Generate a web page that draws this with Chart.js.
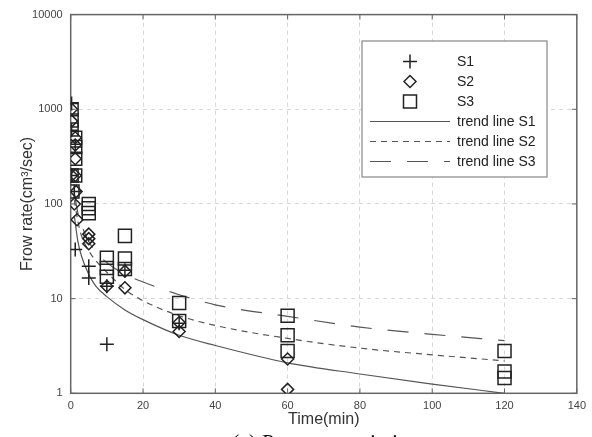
<!DOCTYPE html>
<html>
<head>
<meta charset="utf-8">
<script src="https://cdn.jsdelivr.net/npm/chart.js@4/dist/chart.umd.min.js"></script>
<style>
  html, body { margin: 0; padding: 0; background: #fff; }
  canvas { display: block; }
</style>
</head>
<body>
<canvas id="c" width="592" height="437"></canvas>
<script>
// Measured flow rate (cm3/sec) against elapsed time (min) for three specimens
const s1Time = [0.25, 0.25, 1.25, 0.25, 1, 1.25, 5, 5, 10, 10, 15, 30];
const s1Flow = [1150, 600, 400, 200, 135, 33, 22, 16.5, 3.3, 13.5, 20, 5.5];

const s2Time = [0.25, 0.25, 1.25, 1.25, 1.25, 0.25, 1.25, 1.5, 1, 1.75, 5, 5, 5, 10, 15, 15, 30, 30, 60, 60];
const s2Flow = [1000, 750, 500, 420, 300, 200, 200, 135, 100, 68, 48, 43, 38, 13.5, 19.5, 13, 5.6, 4.5, 2.3, 1.1];

const s3Time = [0.25, 0.25, 0.25, 1.25, 1.25, 1.25, 0.25, 1.25, 0.5, 5, 5, 5, 10, 10, 10, 15, 15, 15, 30, 30, 60, 60, 60, 120, 120, 120];
const s3Flow = [1000, 760, 610, 500, 400, 300, 200, 200, 135, 100, 90, 80, 27, 21, 17, 46, 26.5, 20.5, 9, 5.8, 6.6, 4.1, 2.8, 2.8, 1.7, 1.45];

// Trend lines
const trendTime = [1, 2, 3, 5, 7, 10, 15, 20, 30, 40, 60, 80, 100, 120];
const trendS1 = [75, 40, 28, 18, 13.5, 10.5, 7.6, 6, 4.1, 3.2, 2.1, 1.6, 1.25, 1.0];
const trendS2 = [110, 65, 46, 32, 25, 19, 12.5, 9.5, 6.6, 5.2, 3.8, 3.0, 2.55, 2.2];
const trendS3 = [130, 80, 60, 40, 31, 24, 18, 15, 11, 8.6, 6.5, 5.0, 4.2, 3.6];

const xTicks = [0, 20, 40, 60, 80, 100, 120, 140];
const yTicks = [1, 10, 100, 1000, 10000];

const pairs = (xs, ys) => xs.map((x, i) => ({ x: x, y: ys[i] }));

const MARK = '#222';
const LINE = '#555';
const SANS = '"Liberation Sans", Arial, sans-serif';

const markerSet = (label, xs, ys, style, r) => ({
  label: label, data: pairs(xs, ys), showLine: false,
  pointStyle: style, pointRadius: r, pointHoverRadius: r,
  pointBorderColor: MARK, pointBackgroundColor: 'rgba(0,0,0,0)',
  pointBorderWidth: 1.5, borderColor: MARK
});
const trendSet = (label, ys, dash) => ({
  label: label, data: pairs(trendTime, ys), showLine: true,
  pointRadius: 0, pointHoverRadius: 0, borderColor: LINE, borderWidth: 1.2,
  borderDash: dash, cubicInterpolationMode: 'monotone', fill: false
});

// Axis frame with inward ticks, drawn beneath the markers
const framePlugin = {
  id: 'frame',
  beforeDatasetsDraw(chart) {
    const { ctx, chartArea: a, scales } = chart;
    ctx.save();
    ctx.strokeStyle = '#666';
    ctx.lineWidth = 1.5;
    ctx.strokeRect(a.left, a.top, a.right - a.left, a.bottom - a.top);
    ctx.lineWidth = 1;
    ctx.beginPath();
    const tl = 5;
    xTicks.forEach(v => {
      const px = scales.x.getPixelForValue(v);
      ctx.moveTo(px, a.bottom); ctx.lineTo(px, a.bottom - tl);
      ctx.moveTo(px, a.top); ctx.lineTo(px, a.top + tl);
    });
    yTicks.forEach(v => {
      const py = scales.y.getPixelForValue(v);
      ctx.moveTo(a.left, py); ctx.lineTo(a.left + tl, py);
      ctx.moveTo(a.right, py); ctx.lineTo(a.right - tl, py);
    });
    ctx.stroke();
    ctx.restore();
  }
};

function drawMarker(ctx, style, r, x, y) {
  ctx.beginPath();
  if (style === 'cross') {
    ctx.moveTo(x - r, y); ctx.lineTo(x + r, y);
    ctx.moveTo(x, y - r); ctx.lineTo(x, y + r);
  } else if (style === 'rectRot') {
    ctx.moveTo(x - r, y); ctx.lineTo(x, y - r); ctx.lineTo(x + r, y); ctx.lineTo(x, y + r); ctx.closePath();
  } else {
    const h = r * Math.SQRT1_2;
    ctx.rect(x - h, y - h, 2 * h, 2 * h);
  }
  ctx.stroke();
}

// Boxed legend in the upper right of the plot
const legendPlugin = {
  id: 'boxLegend',
  afterDraw(chart) {
    const { ctx } = chart;
    const bx = 362, by = 41, bw = 185, bh = 136;
    ctx.save();
    ctx.fillStyle = '#fff';
    ctx.fillRect(bx, by, bw, bh);
    ctx.strokeStyle = '#888';
    ctx.lineWidth = 1.2;
    ctx.strokeRect(bx, by, bw, bh);
    ctx.font = '14px ' + SANS;
    ctx.textBaseline = 'middle';
    ctx.fillStyle = '#222';
    chart.data.datasets.forEach((ds, i) => {
      const y = 61.5 + 20 * i;
      if (ds.showLine) {
        ctx.save();
        ctx.strokeStyle = ds.borderColor;
        ctx.lineWidth = ds.borderWidth;
        ctx.setLineDash(ds.borderDash || []);
        ctx.beginPath(); ctx.moveTo(370, y); ctx.lineTo(450, y); ctx.stroke();
        ctx.restore();
      } else {
        ctx.save();
        ctx.strokeStyle = ds.pointBorderColor;
        ctx.lineWidth = ds.pointBorderWidth;
        drawMarker(ctx, ds.pointStyle, ds.pointRadius, 410, y);
        ctx.restore();
      }
      ctx.fillText(ds.label, 457, y + 0.5);
    });
    ctx.restore();
  }
};

// Figure caption under the axis title
const captionPlugin = {
  id: 'caption',
  afterDraw(chart) {
    const { ctx } = chart;
    ctx.save();
    ctx.font = '22px "Liberation Serif", "Times New Roman", serif';
    ctx.fillStyle = '#111';
    ctx.textBaseline = 'alphabetic';
    ctx.fillText('(a) Pressure variation', 232, 449);
    ctx.restore();
  }
};

new Chart(document.getElementById('c'), {
  type: 'scatter',
  data: {
    datasets: [
      markerSet('S1', s1Time, s1Flow, 'cross', 7),
      markerSet('S2', s2Time, s2Flow, 'rectRot', 6),
      markerSet('S3', s3Time, s3Flow, 'rect', 9.2),
      trendSet('trend line S1', trendS1, []),
      trendSet('trend line S2', trendS2, [6, 5]),
      trendSet('trend line S3', trendS3, [21, 16])
    ]
  },
  options: {
    responsive: false,
    devicePixelRatio: 1,
    animation: false,
    events: [],
    layout: { padding: { left: 0, right: 13, top: 12, bottom: 0 } },
    plugins: { legend: { display: false }, tooltip: { enabled: false } },
    scales: {
      x: {
        type: 'linear', min: 0, max: 140,
        afterFit: s => { s.height = 43.7; },
        afterBuildTicks: s => { s.ticks = xTicks.map(v => ({ value: v })); },
        grid: { color: '#d6d6d6', lineWidth: 1, drawTicks: false },
        border: { display: false, dash: [4, 4] },
        ticks: { padding: 6, color: '#444', font: { size: 11, family: SANS }, callback: v => String(v) },
        title: { display: true, text: 'Time(min)', color: '#333', padding: { top: 0, bottom: 7.4 },
                 font: { size: 16, family: SANS } }
      },
      y: {
        type: 'logarithmic', min: 1, max: 10000,
        afterFit: s => { s.width = 70.7; },
        afterBuildTicks: s => { s.ticks = yTicks.map(v => ({ value: v })); },
        grid: { color: '#d6d6d6', lineWidth: 1, drawTicks: false },
        border: { display: false, dash: [4, 4] },
        ticks: { padding: 8, color: '#444', font: { size: 11, family: SANS }, callback: v => String(v) },
        title: { display: true, text: 'Frow rate(cm³/sec)', color: '#333', padding: { top: 18, bottom: 0 },
                 font: { size: 16, family: SANS } }
      }
    }
  },
  plugins: [framePlugin, legendPlugin, captionPlugin]
});
</script>
</body>
</html>
